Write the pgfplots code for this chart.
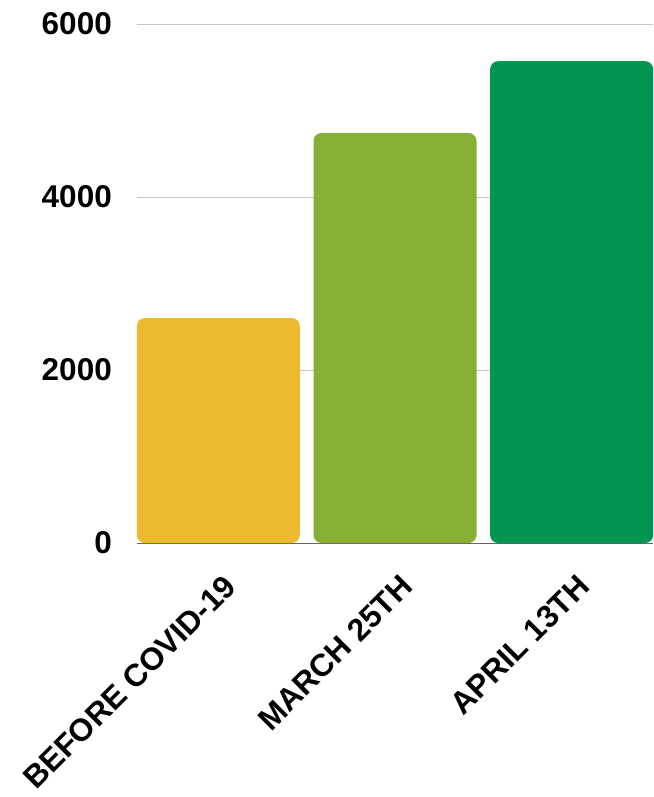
\documentclass[border=0pt]{standalone}
\usepackage{pgfplots}
\pgfplotsset{compat=1.18}
\usepackage{fontspec}
\setmainfont{Liberation Sans}
\definecolor{c1}{RGB}{237,185,46}
\definecolor{c2}{RGB}{135,175,51}
\definecolor{c3}{RGB}{0,150,81}
\begin{document}
\begin{tikzpicture}
\begin{axis}[name=ax, scale only axis, width=516pt, height=519pt,
  xmin=-0.4605, xmax=2.4605, ymin=0, ymax=6000,
  ytick={0,2000,4000,6000},
  ymajorgrids, grid style={draw=black!22, line width=0.8pt},
  axis x line*=bottom, axis y line*=left,
  y axis line style={draw=none},
  x axis line style={draw=black!60, line width=0.8pt, -},
  major tick length=0pt,
  xtick={0,1,2},
  xticklabels={BEFORE COVID-19, MARCH 25TH, APRIL 13TH},
  xticklabel style={xshift=4pt, yshift=-30pt, rotate=45, anchor=north east, inner sep=0pt,
    font=\fontsize{31.5}{31.5}\selectfont\bfseries},
  yticklabel style={font=\fontsize{31.5}{31.5}\selectfont\bfseries, inner sep=0pt, xshift=-25pt},
  /pgf/number format/assume math mode=true,
  /pgf/number format/1000 sep={},
  scaled y ticks=false,
]
\addplot[ybar, bar shift=0pt, bar width=163pt, fill=c1, draw=none, rounded corners=8pt] coordinates {(0,2600)};
\addplot[ybar, bar shift=0pt, bar width=163pt, fill=c2, draw=none, rounded corners=8pt] coordinates {(1,4740)};
\addplot[ybar, bar shift=0pt, bar width=163pt, fill=c3, draw=none, rounded corners=8pt] coordinates {(2,5570)};
\end{axis}
\pgfresetboundingbox
\path ([shift={(-137pt,-254pt)}]ax.south west) rectangle ([shift={(0pt,24pt)}]ax.north east);
\end{tikzpicture}
\end{document}
